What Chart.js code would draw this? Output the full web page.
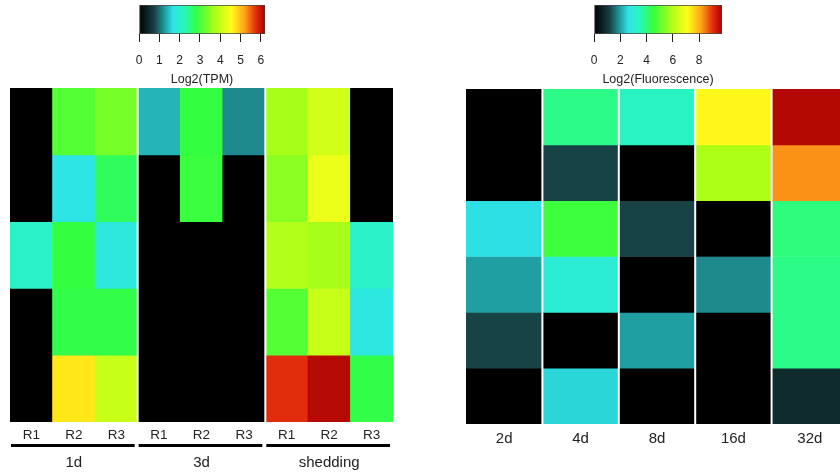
<!DOCTYPE html>
<html>
<head>
<meta charset="utf-8">
<script src="https://cdn.jsdelivr.net/npm/chart.js@4"></script>
<style>
  html, body { margin: 0; padding: 0; background: #fff; width: 840px; height: 474px; overflow: hidden; }
  canvas { position: absolute; }
</style>
</head>
<body>
<canvas id="tpm" width="420" height="474" style="left:0;top:0"></canvas>
<canvas id="tpmBar" width="170" height="87" style="left:120px;top:0"></canvas>
<canvas id="fluo" width="420" height="474" style="left:440px;top:0"></canvas>
<canvas id="fluoBar" width="170" height="87" style="left:575px;top:0"></canvas>
<script>
// left panel: Log2(TPM), rows listed top to bottom
const replicateLabels = ['R1', 'R2', 'R3', 'R1', 'R2', 'R3', 'R1', 'R2', 'R3'];
const stageLabels = ['1d', '3d', 'shedding'];
const tpmValues = [
  [0, 3.1, 3.35, 1.4, 2.85, 1.15, 3.7, 4.1, 0],
  [0, 1.7, 2.7, 0, 2.9, 0, 3.5, 4.35, 0],
  [2.05, 2.85, 1.8, 0, 0, 0, 3.8, 3.7, 2.05],
  [0, 2.8, 2.8, 0, 0, 0, 3.1, 4.0, 1.75],
  [0, 4.7, 4.0, 0, 0, 0, 5.75, 6.1, 2.8]
];
const tpmTicks = [0, 1, 2, 3, 4, 5, 6];
const tpmMax = 6.2;

// right panel: Log2(Fluorescence)
const dayLabels = ['2d', '4d', '8d', '16d', '32d'];
const fluoValues = [
  [0, 3.9, 3.3, 7.2, 9.6],
  [0, 1.2, 0, 5.9, 8.3],
  [2.6, 4.6, 1.2, 0, 4.0],
  [2.0, 3.0, 0, 1.8, 3.9],
  [1.2, 0, 2.0, 0, 3.9],
  [0, 2.5, 0, 0, 0.8]
];
const fluoTicks = [0, 2, 4, 6, 8];
const fluoMax = 9.75;

// black -> teal -> cyan -> green -> yellow -> red -> dark red
const cmapStops = [
  [0.00, '#000000'],
  [0.12, '#173f44'],
  [0.20, '#1f9a9c'],
  [0.27, '#2ee4e8'],
  [0.36, '#28f8b8'],
  [0.46, '#33ff40'],
  [0.60, '#aaff18'],
  [0.73, '#ffff18'],
  [0.84, '#ffa018'],
  [0.93, '#e02a0c'],
  [1.00, '#a80000']
];

const FONT = "'Liberation Sans', Arial, sans-serif";
Chart.defaults.font.family = FONT;
Chart.defaults.color = '#222';
Chart.defaults.animation = false;

function hexToRgb(h) {
  return [parseInt(h.slice(1, 3), 16), parseInt(h.slice(3, 5), 16), parseInt(h.slice(5, 7), 16)];
}

function colorFor(v, max) {
  const t = Math.max(0, Math.min(1, v / max));
  for (let i = 1; i < cmapStops.length; i++) {
    const [t1, c1] = cmapStops[i];
    if (t <= t1) {
      const [t0, c0] = cmapStops[i - 1];
      const f = (t - t0) / (t1 - t0);
      const a = hexToRgb(c0), b = hexToRgb(c1);
      const rgb = a.map((x, k) => Math.round(x + (b[k] - x) * f));
      return `rgb(${rgb.join(',')})`;
    }
  }
  return cmapStops[cmapStops.length - 1][1];
}

// white vertical lines between columns, and underlines for column groups
const heatDecor = {
  id: 'heatDecor',
  afterDatasetsDraw(chart, args, opts) {
    const ctx = chart.ctx;
    const x = chart.scales.x;
    const ca = chart.chartArea;
    const half = (x.getPixelForValue(1) - x.getPixelForValue(0)) / 2;
    ctx.save();
    ctx.strokeStyle = '#fff';
    ctx.lineWidth = 2;
    (opts.separators || []).forEach(i => {
      const px = x.getPixelForValue(i) + half;
      ctx.beginPath();
      ctx.moveTo(px, ca.top);
      ctx.lineTo(px, ca.bottom);
      ctx.stroke();
    });
    if (opts.groupSize) {
      const g = chart.scales.xg;
      ctx.strokeStyle = '#000';
      ctx.lineWidth = 3;
      const n = x.ticks.length / opts.groupSize;
      for (let k = 0; k < n; k++) {
        const a = x.getPixelForValue(k * opts.groupSize) - half + 1;
        const b = x.getPixelForValue((k + 1) * opts.groupSize - 1) + half - 3;
        ctx.beginPath();
        ctx.moveTo(a, g.top + 1.5);
        ctx.lineTo(b, g.top + 1.5);
        ctx.stroke();
      }
    }
    ctx.restore();
  }
};

function heatDatasets(rows, max) {
  const n = rows.length;
  return rows.map((row, r) => ({
    data: row.map(() => [n - 1 - r, n - r]),
    backgroundColor: row.map(v => colorFor(v, max)),
    borderWidth: 0,
    grouped: false,
    barPercentage: 1,
    categoryPercentage: 1
  }));
}

new Chart(document.getElementById('tpm'), {
  type: 'bar',
  data: { labels: replicateLabels, datasets: heatDatasets(tpmValues, tpmMax) },
  options: {
    responsive: false,
    layout: { padding: { left: 10, right: 27, top: 88, bottom: 0 } },
    plugins: {
      legend: { display: false },
      tooltip: { enabled: false },
      heatDecor: { separators: [2, 5], groupSize: 3 }
    },
    scales: {
      x: {
        grid: { display: false, drawTicks: false },
        border: { display: false },
        ticks: { padding: 5, font: { size: 13.5 }, maxRotation: 0 },
        afterFit: s => { s.height = 22; },
        weight: 0
      },
      xg: {
        type: 'category',
        position: 'bottom',
        labels: stageLabels,
        grid: { display: false, drawTicks: false },
        border: { display: false },
        ticks: { padding: 10, font: { size: 15 }, maxRotation: 0 },
        afterFit: s => { s.height = 30; },
        weight: 1
      },
      y: { type: 'linear', min: 0, max: tpmValues.length, display: false }
    }
  },
  plugins: [heatDecor]
});

new Chart(document.getElementById('fluo'), {
  type: 'bar',
  data: { labels: dayLabels, datasets: heatDatasets(fluoValues, fluoMax) },
  options: {
    responsive: false,
    layout: { padding: { left: 26, right: 12, top: 89, bottom: 0 } },
    plugins: {
      legend: { display: false },
      tooltip: { enabled: false },
      heatDecor: { separators: [0, 1, 2, 3] }
    },
    scales: {
      x: {
        grid: { display: false, drawTicks: false },
        border: { display: false },
        ticks: { padding: 6, font: { size: 15 }, maxRotation: 0 },
        afterFit: s => { s.height = 50; }
      },
      y: { type: 'linear', min: 0, max: fluoValues.length, display: false }
    }
  },
  plugins: [heatDecor]
});

function colorBar(id, max, tickValues, title, padRight) {
  new Chart(document.getElementById(id), {
    type: 'bar',
    data: {
      labels: [''],
      datasets: [{
        data: [[0, max]],
        backgroundColor: c => {
          const ca = c.chart.chartArea;
          if (!ca) return '#000';
          const g = c.chart.ctx.createLinearGradient(ca.left, 0, ca.right, 0);
          cmapStops.forEach(([t, col]) => g.addColorStop(t, col));
          return g;
        },
        borderWidth: 1,
        borderColor: '#444',
        borderSkipped: false,
        barPercentage: 1,
        categoryPercentage: 1
      }]
    },
    options: {
      indexAxis: 'y',
      responsive: false,
      layout: { padding: { left: 19, right: padRight, top: 5, bottom: 0 } },
      plugins: { legend: { display: false }, tooltip: { enabled: false } },
      scales: {
        x: {
          type: 'linear',
          min: 0,
          max: max,
          position: 'bottom',
          afterBuildTicks: s => { s.ticks = tickValues.map(v => ({ value: v })); },
          grid: { drawOnChartArea: false, drawTicks: true, tickLength: 8, color: '#222' },
          border: { display: false },
          ticks: { padding: 11, font: { size: 12 }, maxRotation: 0, color: '#222' },
          title: { display: true, text: title, font: { size: 12.5 }, color: '#222', padding: { top: 2, bottom: 0 } },
          afterFit: s => { s.height = 53; }
        },
        y: { display: false }
      }
    }
  });
}

colorBar('tpmBar', tpmMax, tpmTicks, 'Log2(TPM)', 25);
colorBar('fluoBar', fluoMax, fluoTicks, 'Log2(Fluorescence)', 23);
</script>
</body>
</html>
